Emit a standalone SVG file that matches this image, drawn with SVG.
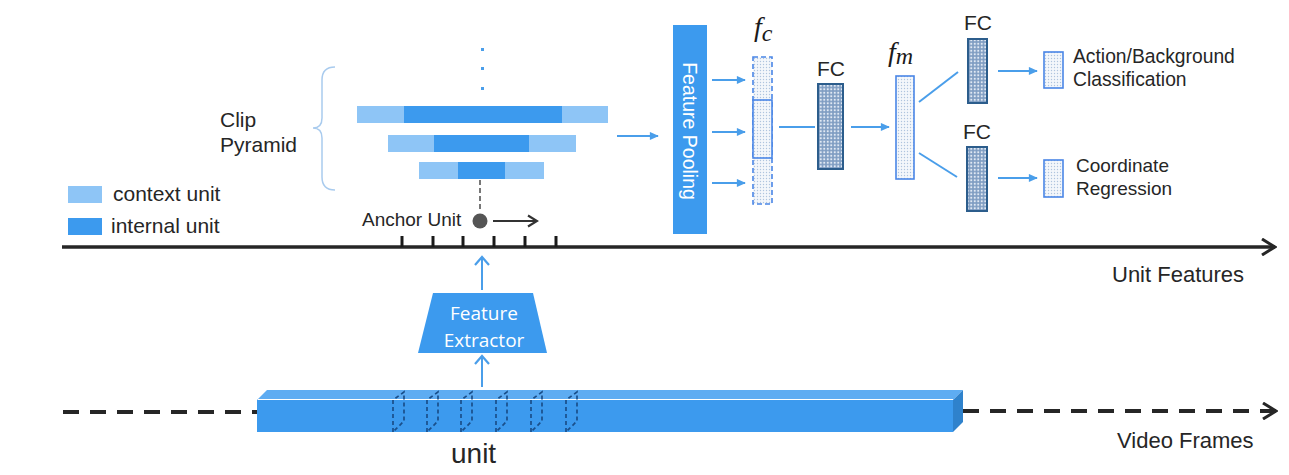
<svg xmlns="http://www.w3.org/2000/svg" width="1289" height="475" viewBox="0 0 1289 475">
<style>
.t{font-family:"Liberation Sans",Arial,sans-serif;fill:#262626}
.w{font-family:"Liberation Sans",Arial,sans-serif;fill:#fff}
.m{font-family:"Liberation Serif","DejaVu Serif",serif;font-style:italic;fill:#1a1a1a}
.ctx{fill:#8EC5F6}
.int{fill:#3C9AEE}
.bl{stroke:#4A9EEA;stroke-width:2;fill:none}
.vec{fill:url(#dots);stroke:#4A86E6;stroke-width:1.6}
.fc{fill:url(#hatch);stroke:#2C5D8C;stroke-width:2}
.slice{fill:none;stroke:#1A4F8A;stroke-width:1.7;stroke-dasharray:4 3}
</style>
<defs>
<pattern id="dots" width="3" height="3" patternUnits="userSpaceOnUse"><rect width="3" height="3" fill="#F4F7FB"/><circle cx="1.5" cy="1.5" r="0.7" fill="#AFC4DE"/></pattern>
<pattern id="hatch" width="3.5" height="3.5" patternUnits="userSpaceOnUse"><rect width="3.5" height="3.5" fill="#7F9DC2"/><circle cx="1.75" cy="1.75" r="1.1" fill="#E2EAF4"/></pattern>
<marker id="ab" viewBox="0 0 10 10" refX="9" refY="5" markerWidth="10" markerHeight="9" markerUnits="userSpaceOnUse" orient="auto"><path d="M0,0.5 L10,5 L0,9.5 z" fill="#4A9EEA"/></marker>
<marker id="cb" viewBox="0 0 16 16" refX="14" refY="8" markerWidth="16" markerHeight="16" markerUnits="userSpaceOnUse" orient="auto"><path d="M6,1 L14,8 L6,15" fill="none" stroke="#4A9EEA" stroke-width="2.2"/></marker>
<marker id="ck" viewBox="0 0 18 18" refX="16" refY="9" markerWidth="18" markerHeight="18" markerUnits="userSpaceOnUse" orient="auto"><path d="M3,1 L16,9 L3,17" fill="none" stroke="#262626" stroke-width="3"/></marker>
<marker id="cs" viewBox="0 0 14 14" refX="12" refY="7" markerWidth="14" markerHeight="14" markerUnits="userSpaceOnUse" orient="auto"><path d="M3,1.5 L12,7 L3,12.5" fill="none" stroke="#333" stroke-width="2.2"/></marker>
</defs>

<g id="legend">
<rect class="ctx" x="68" y="186" width="34" height="17"/>
<text class="t" x="113" y="201" font-size="21">context unit</text>
<rect class="int" x="68" y="218" width="34" height="17"/>
<text class="t" x="111" y="233" font-size="21">internal unit</text>
</g>

<g id="clip-pyramid">
<text class="t" x="220" y="127" font-size="21">Clip</text>
<text class="t" x="220" y="152" font-size="21">Pyramid</text>
<path d="M335,67 Q322,67 322,80 L322,118 Q322,128 313,128 Q322,128 322,138 L322,177 Q322,190 335,190" fill="none" stroke="#A9CBEE" stroke-width="1.5"/>
<rect x="481" y="48" width="3" height="3" fill="#4A9EEA"/>
<rect x="481" y="67" width="3" height="3" fill="#4A9EEA"/>
<rect x="481" y="87" width="3" height="3" fill="#4A9EEA"/>
<rect class="ctx" x="357" y="106" width="251" height="17"/>
<rect class="int" x="404" y="106" width="158" height="17"/>
<rect class="ctx" x="388" y="135" width="188" height="17"/>
<rect class="int" x="434" y="135" width="95" height="17"/>
<rect class="ctx" x="419" y="162" width="125" height="17"/>
<rect class="int" x="458" y="162" width="47" height="17"/>
</g>

<g id="anchor-unit">
<line x1="480" y1="180" x2="480" y2="212" stroke="#777" stroke-width="2" stroke-dasharray="5 3"/>
<circle cx="480" cy="221" r="7.5" fill="#555"/>
<text class="t" x="362" y="226" font-size="19">Anchor Unit</text>
</g>

<g id="unit-features-axis">
<line x1="62" y1="247" x2="1275" y2="247" stroke="#262626" stroke-width="3.5" marker-end="url(#ck)"/>
<g stroke="#1a1a1a" stroke-width="3">
<line x1="402" y1="236" x2="402" y2="247"/>
<line x1="433" y1="236" x2="433" y2="247"/>
<line x1="463" y1="236" x2="463" y2="247"/>
<line x1="494" y1="236" x2="494" y2="247"/>
<line x1="525" y1="236" x2="525" y2="247"/>
<line x1="556" y1="236" x2="556" y2="247"/>
</g>
<text class="t" x="1112" y="282" font-size="22">Unit Features</text>
</g>

<g id="feature-pooling">
<rect class="int" x="673" y="25" width="34" height="209"/>
<text class="w" transform="translate(683,131) rotate(90)" text-anchor="middle" font-size="19.5">Feature Pooling</text>
</g>

<g id="fc-vector">
<rect x="753" y="57" width="19" height="147" fill="url(#dots)" stroke="#4A86E6" stroke-width="1.6" stroke-dasharray="5 3"/>
<rect class="vec" x="753" y="100" width="19" height="58"/>
<text class="m" x="754" y="36" font-size="28">f<tspan font-size="24" dy="5">c</tspan></text>
</g>

<g id="fc1">
<rect class="fc" x="818" y="84" width="25" height="85"/>
<text class="t" x="831" y="76" font-size="21" text-anchor="middle">FC</text>
</g>

<g id="fm-vector">
<rect class="vec" x="896" y="76" width="18" height="103"/>
<text class="m" x="888" y="61" font-size="28">f<tspan font-size="24" dy="3">m</tspan></text>
</g>

<g id="fc2">
<rect class="fc" x="968" y="39" width="19" height="64"/>
<text class="t" x="978" y="30" font-size="21" text-anchor="middle">FC</text>
</g>

<g id="fc3">
<rect class="fc" x="967" y="147" width="20" height="64"/>
<text class="t" x="977" y="139" font-size="21" text-anchor="middle">FC</text>
</g>

<g id="out-cls">
<rect class="vec" x="1044" y="52" width="19" height="36"/>
<text class="t" x="1073" y="63" font-size="19.3">Action/Background</text>
<text class="t" x="1073" y="86" font-size="19.3">Classification</text>
</g>

<g id="out-reg">
<rect class="vec" x="1044" y="160" width="19" height="37"/>
<text class="t" x="1076" y="172" font-size="19">Coordinate</text>
<text class="t" x="1076" y="195" font-size="19">Regression</text>
</g>

<g id="feature-extractor">
<polygon points="433,293 533,293 547,353 418,353" fill="#3C9AEE"/>
<text x="484" y="320" font-size="19" text-anchor="middle" font-family="'Open Sans','Liberation Sans',sans-serif" fill="#fff">Feature</text>
<text x="484" y="347" font-size="19" text-anchor="middle" font-family="'Open Sans','Liberation Sans',sans-serif" fill="#fff">Extractor</text>
</g>

<g id="video-unit">
<polygon points="257,400 267,390 963,390 953,400" fill="#5EACF2"/>
<rect x="257" y="400" width="696" height="32" fill="#3C9AEE"/>
<polygon points="953,400 963,390 963,422 953,432" fill="#2F82CC"/>
<line x1="258" y1="399.5" x2="953" y2="399.5" stroke="#fff" stroke-width="1.2"/>
<path class="slice" d="M393,432 L393,400 L404,392 L404,421 Z"/>
<path class="slice" d="M427,432 L427,400 L438,392 L438,421 Z"/>
<path class="slice" d="M461,432 L461,400 L472,392 L472,421 Z"/>
<path class="slice" d="M496,432 L496,400 L507,392 L507,421 Z"/>
<path class="slice" d="M531,432 L531,400 L542,392 L542,421 Z"/>
<path class="slice" d="M566,432 L566,400 L577,392 L577,421 Z"/>
<text class="t" x="451" y="463" font-size="28">unit</text>
</g>

<g id="video-frames">
<text class="t" x="1117" y="448" font-size="22">Video Frames</text>
</g>

<g id="connectors">
<line x1="63" y1="412" x2="257" y2="412" stroke="#262626" stroke-width="4" stroke-dasharray="16 11"/>
<line x1="963" y1="411" x2="1276" y2="411" stroke="#262626" stroke-width="4" stroke-dasharray="16 11" marker-end="url(#ck)"/>
<line x1="493" y1="221" x2="537" y2="221" stroke="#333" stroke-width="2.2" marker-end="url(#cs)"/>
<line class="bl" x1="482" y1="290" x2="482" y2="257" marker-end="url(#cb)"/>
<line class="bl" x1="482" y1="387" x2="482" y2="356" marker-end="url(#cb)"/>
<line class="bl" x1="617" y1="136" x2="658" y2="136" marker-end="url(#ab)"/>
<line class="bl" x1="712" y1="80" x2="745" y2="80" marker-end="url(#ab)"/>
<line class="bl" x1="712" y1="132" x2="745" y2="132" marker-end="url(#ab)"/>
<line class="bl" x1="712" y1="183" x2="745" y2="183" marker-end="url(#ab)"/>
<line class="bl" x1="779" y1="127" x2="815" y2="127"/>
<line class="bl" x1="851" y1="127" x2="889" y2="127" marker-end="url(#ab)"/>
<line class="bl" x1="919" y1="102" x2="958" y2="72"/>
<line class="bl" x1="919" y1="153" x2="957" y2="177"/>
<line class="bl" x1="998" y1="71" x2="1037" y2="71" marker-end="url(#ab)"/>
<line class="bl" x1="998" y1="178" x2="1037" y2="178" marker-end="url(#ab)"/>
</g>
</svg>
